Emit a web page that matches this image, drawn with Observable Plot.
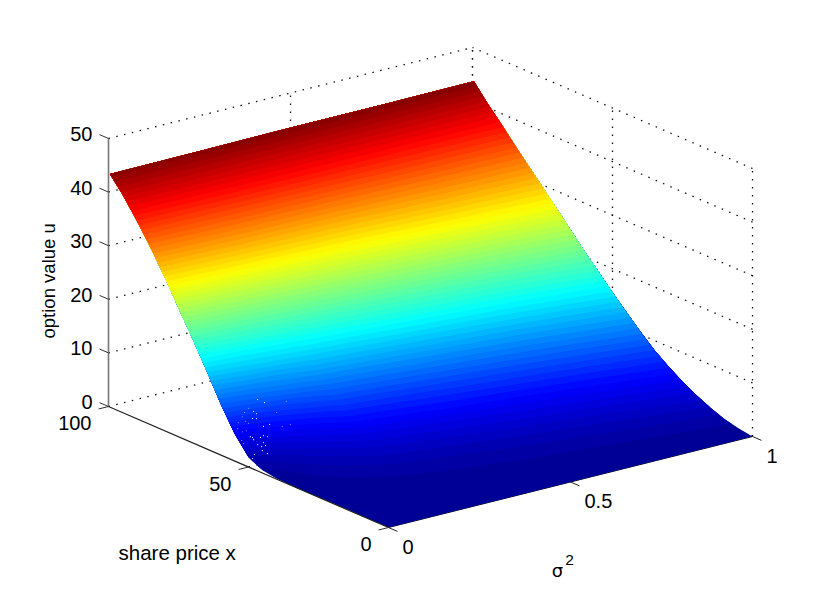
<!DOCTYPE html>
<html><head><meta charset="utf-8">
<script src="https://cdn.jsdelivr.net/npm/d3@7"></script>
<script src="https://cdn.jsdelivr.net/npm/@observablehq/plot@0.6"></script>
<style>html,body{margin:0;padding:0;background:#fff}svg{display:block}</style>
</head><body><div id="chart"></div>
<script>
// Data
const sharePrices = [0,5,10,15,20,25,30,35,40,45,50,55,60,65,70,75,80,85,90,95,99.5];
const sigmas = [0,0.25,0.5,0.75,1];
const uSigma000 = [0,0,0,0,0,0,0,0,0.1,0.5,1.8,5.1,9.6,14.6,19.4,24,28.7,33,37,40.7,43.5];
const uSigma025 = [0,0,0.1,0.2,0.5,0.9,1.6,2.6,3.9,5.7,8,10.8,14.2,17.8,21.7,25.8,30,33.9,37.6,40.9,43.6];
const uSigma050 = [0,0.1,0.3,0.6,1.1,1.8,2.9,4.2,6,8,10.5,13.5,16.8,20.2,23.7,27.1,30.8,34.4,37.9,40.9,43.7];
const uSigma075 = [0,0.2,0.5,1.1,1.9,3,4.4,6,8,10.3,12.9,15.8,18.8,22,25.3,28.7,31.9,35,38,41,43.7];
const uSigma100 = [0,0.4,1,2,3.2,4.6,6.3,8.2,10.5,13,15.6,18.3,21,23.9,26.8,29.6,32.4,35.3,38.2,41,43.8];
const uTicks = [0,10,20,30,40,50];
const priceTicks = [0,50,100];
const sigmaTicks = [0,0.5,1];
// Small pale rendering specks on the surface: sigma, u
const speckSigma = [.102,.121,.091,.099,.088,.099,.118,.135,.082,.088,.110,.118,.129,.091,.102,.118];
const speckU = [8.6,7.7,6.6,6.0,5.3,5.1,3.3,3.4,2.0,1.75,1.4,1.6,1.2,1.3,.2,.3];
const speckSigmaLow = [.036,.047,.038,.052,.016,.011];
const speckULow = [3.2,3.2,2.4,1.6,2.05,1.4];
const paleSigma = [.181,.154,.077,.066,.060,.069,.049,.077,.047,.071,.060,.192,.170,.058,.063];
const paleU = [6.9,5.3,7.4,6.8,6.1,5.1,5.2,4.6,4.1,3.3,3.3,2.4,2.4,1.7,1.05];

const uRows = [uSigma000,uSigma025,uSigma050,uSigma075,uSigma100];
const uMax = d3.max(uRows.flat());

// Oblique view of the 3-D box
const viewX = (x,s) => 388 - 2.8*x + 364*s;
const viewY = (x,s,u) => 527 - 1.21*x - 91*s - 5.36*u;

// Colour bands on the surface, one contour per jet level
const nx = sigmas.length, ny = sharePrices.length;
const grid = [];
for (let j=0;j<ny;j++) for (let i=0;i<nx;i++) grid.push(uRows[i][j]);
const levels = d3.range(64).map(k => k/64*uMax);
const sample = (i,j) => {
  const i0=Math.min(Math.floor(i),nx-2), j0=Math.min(Math.floor(j),ny-2), a=i-i0, b=j-j0;
  return (1-a)*(1-b)*uRows[i0][j0]+a*(1-b)*uRows[i0+1][j0]+(1-a)*b*uRows[i0][j0+1]+a*b*uRows[i0+1][j0+1];
};
const priceAt = j => {
  const j0=Math.min(Math.floor(j),ny-2);
  return sharePrices[j0]+(j-j0)*(sharePrices[j0+1]-sharePrices[j0]);
};
const bandRows = [];
d3.contours().size([nx,ny]).thresholds(levels)(grid).forEach((c,k)=>{
  c.coordinates.forEach((poly,p)=>{
    poly[0].forEach(([cx,cy])=>{
      const i=Math.max(0,Math.min(nx-1,cx-.5)), j=Math.max(0,Math.min(ny-1,cy-.5));
      const x=priceAt(j), s=i/(nx-1), u=sample(i,j);
      bandRows.push({ring:k+"-"+p, level:(k+.5)/64*uMax, vx:viewX(x,s), vy:viewY(x,s,u)});
    });
  });
});

// Box grid, seen behind the surface
const seg = (x1,s1,u1,x2,s2,u2)=>({a:viewX(x1,s1),b:viewY(x1,s1,u1),c:viewX(x2,s2),d:viewY(x2,s2,u2)});
const gridLines = [
  ...uTicks.map(u=>seg(0,1,u,100,1,u)),
  ...uTicks.map(u=>seg(100,0,u,100,1,u)),
  ...priceTicks.map(x=>seg(x,1,0,x,1,50)),
  ...sigmaTicks.slice(1).map(s=>seg(100,s,0,100,s,50)),
  seg(50,0,0,50,1,0), seg(0,.5,0,100,.5,0)
];
const uTickLines = uTicks.map(u=>seg(100,0,u,103.2,0,u));
const priceTickLines = priceTicks.map(x=>seg(x,0,0,x,-.027,0));
const sigmaTickLines = sigmaTicks.map(s=>seg(0,s,0,-3.2,s,0));
const linkOpt = {x1:"a",y1:"b",x2:"c",y2:"d"};

const speck = (ss,us,x)=>ss.map((s,i)=>({vx:viewX(x,s),vy:viewY(x,s,us[i])}));

const font = "Liberation Sans, Arial, sans-serif";
const plot = Plot.plot({
  width:830, height:596, margin:0,
  x:{domain:[0,830],range:[0,830],axis:null},
  y:{domain:[0,596],range:[0,596],axis:null},
  color:{type:"linear",domain:[0,.125,.375,.625,.875,1].map(t=>t*uMax),
         range:["#00008f","#0000ff","#00ffff","#ffff00","#ff0000","#800000"],interpolate:"rgb"},
  style:{background:"#fff",fontFamily:font},
  marks:[
    Plot.link(gridLines,{...linkOpt,stroke:"#111",strokeWidth:1.3,strokeDasharray:"1.5 6.5"}),
    Plot.link([seg(0,0,0,0,1,0)],{...linkOpt,stroke:"#111",strokeWidth:1}),
    Plot.line(bandRows,{x:"vx",y:"vy",z:"ring",fill:"level",stroke:null,curve:"linear"}),
    Plot.dot(speck(paleSigma,paleU,60),{x:"vx",y:"vy",r:.6,fill:"#8c8cff",stroke:null}),
    Plot.dot(speck(speckSigma,speckU,60),{x:"vx",y:"vy",r:.6,fill:"#fff",stroke:null}),
    Plot.dot(speck(speckSigmaLow,speckULow,50),{x:"vx",y:"vy",r:.6,fill:"#fff",stroke:null}),
    Plot.link([seg(100,0,0,100,0,50)],{...linkOpt,stroke:"#777",strokeWidth:1.6}),
    Plot.link([seg(100,0,0,0,0,0)],{...linkOpt,stroke:"#222",strokeWidth:1.2}),
    Plot.link(uTickLines,{...linkOpt,stroke:"#333",strokeWidth:1}),
    Plot.link(priceTickLines,{...linkOpt,stroke:"#333",strokeWidth:1}),
    Plot.link(sigmaTickLines,{...linkOpt,stroke:"#222",strokeWidth:1}),
    Plot.text(uTicks,{x:()=>viewX(100,0),y:u=>viewY(100,0,u),text:u=>String(u),textAnchor:"end",dx:-16,dy:-4,fontSize:20,fill:"#000"}),
    Plot.text(priceTicks,{x:p=>viewX(p,0),y:p=>viewY(p,0,0),text:p=>String(p),textAnchor:"end",dx:-17,dy:17.5,fontSize:20,fill:"#000"}),
    Plot.text(sigmaTicks,{x:s=>viewX(0,s),y:s=>viewY(0,s,0),text:s=>String(s),textAnchor:"start",dx:14,dy:20,fontSize:20,fill:"#000"}),
    Plot.text(["share price x"],{x:()=>viewX(50,0),y:()=>viewY(50,0,0),textAnchor:"start",dx:-130,dy:86,fontSize:20.5,fill:"#000"}),
    Plot.text(["option value u"],{x:()=>viewX(100,0),y:()=>viewY(100,0,24),rotate:-90,dx:-59,dy:3,fontSize:18.5,fill:"#000"}),
    Plot.text(["σ"],{x:()=>viewX(0,.5),y:()=>viewY(0,.5,0),dx:-13,dy:89,fontSize:18,fill:"#000",fontFamily:"DejaVu Sans"}),
    Plot.text(["2"],{x:()=>viewX(0,.5),y:()=>viewY(0,.5,0),dx:-1,dy:78,fontSize:15.5,fill:"#000"})
  ]
});
document.getElementById("chart").append(plot);
</script></body></html>
